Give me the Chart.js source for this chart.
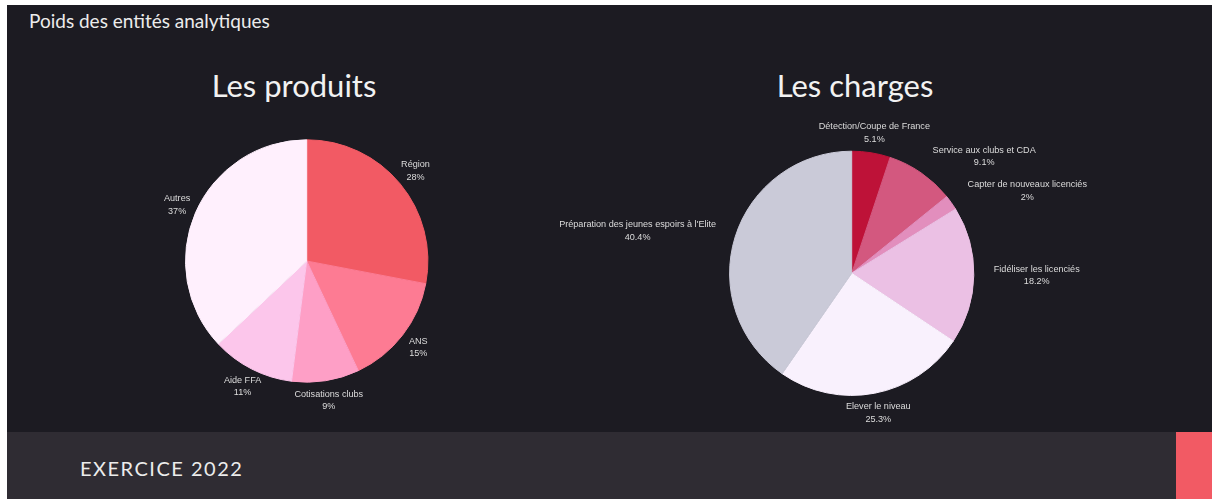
<!DOCTYPE html>
<html lang="fr">
<head>
<meta charset="utf-8">
<title>Poids des entités analytiques</title>
<script src="https://cdn.jsdelivr.net/npm/chart.js@4.4.0/dist/chart.umd.min.js"></script>
<style>
    html, body {
        margin: 0;
        padding: 0;
        width: 1212px;
        height: 499px;
        overflow: hidden;
        background: #ffffff;
        font-family: Lato, "Open Sans", sans-serif;
    }
    .panel {
        position: absolute;
        left: 7px;
        top: 5px;
        width: 1205px;
        height: 427px;
        background: #1c1b22;
    }
    .page-title {
        position: absolute;
        left: 29px;
        top: 8px;
        font-size: 19px;
        color: #ececec;
        line-height: 25px;
    }
    .chart-title {
        position: absolute;
        top: 66px;
        font-size: 31px;
        line-height: 38px;
        color: #f2f2f2;
        text-align: center;
    }
    canvas {
        position: absolute;
    }
    .footer {
        position: absolute;
        left: 7px;
        top: 432px;
        width: 1205px;
        height: 67px;
        background: #2f2c33;
    }
    .footer-text {
        position: absolute;
        left: 80px;
        top: 455px;
        font-size: 20px;
        line-height: 26px;
        letter-spacing: 1.5px;
        color: #ececec;
    }
    .footer-mark {
        position: absolute;
        left: 1176px;
        top: 432px;
        width: 36px;
        height: 67px;
        background: #f25a64;
    }
</style>
</head>
<body>
<div class="panel"></div>
<div class="page-title">Poids des entités analytiques</div>
<div class="chart-title" style="left:0;width:588px;">Les produits</div>
<div class="chart-title" style="left:600px;width:510px;">Les charges</div>
<canvas id="produits-chart" width="520" height="330" style="left:0;top:100px;"></canvas>
<canvas id="charges-chart" width="692" height="330" style="left:520px;top:100px;"></canvas>
<div class="footer"></div>
<div class="footer-text">EXERCICE 2022</div>
<div class="footer-mark"></div>

<script>
// Les produits
const produitsLabels = ['Région', 'ANS', 'Cotisations clubs', 'Aide FFA', 'Autres'];
const produitsValues = [28, 15, 9, 11, 37];
const produitsColors = ['#f25a64', '#fd7b93', '#fe9fc6', '#fcc6eb', '#fff0fd'];

// Les charges
const chargesLabels = [
    'Détection/Coupe de France',
    'Service aux clubs et CDA',
    'Capter de nouveaux licenciés',
    'Fidéliser les licenciés',
    'Elever le niveau',
    "Préparation des jeunes espoirs à l'Elite"
];
const chargesValues = [5.1, 9.1, 2, 18.2, 25.3, 40.4];
const chargesColors = ['#be1238', '#d3587f', '#e28ebd', '#ebc0e4', '#f9f1fd', '#cacad8'];

/**
 * Étiquettes à l'extérieur du camembert (libellé + pourcentage)
 * Le texte est centré sur le point radial, sauf s'il mord sur le disque :
 * il est alors poussé vers l'extérieur (aligné à gauche ou à droite).
 */
const outerLabels = {
    id: 'outerLabels',
    afterDatasetsDraw(chart, args, opts) {
        const ctx = chart.ctx;
        const meta = chart.getDatasetMeta(0);
        const labels = chart.data.labels;
        const values = chart.data.datasets[0].data;
        ctx.save();
        ctx.font = opts.size + 'px ' + opts.family;
        ctx.fillStyle = opts.color;
        ctx.textAlign = 'center';
        ctx.textBaseline = 'middle';
        meta.data.forEach(function(arc, i) {
            const p = arc.getProps(['x', 'y', 'startAngle', 'endAngle', 'outerRadius'], true);
            const mid = (p.startAngle + p.endAngle) / 2;
            const vx = Math.cos(mid);
            const vy = Math.sin(mid);
            const r = p.outerRadius + opts.offset;
            const px = p.x + vx * r;
            const py = p.y + vy * r;
            const lines = [labels[i], values[i] + '%'];
            const w = Math.max.apply(null, lines.map(function(t) { return ctx.measureText(t).width; }));
            // point de la boîte le plus proche du centre
            const nx = Math.max(px - w / 2, Math.min(p.x, px + w / 2));
            const ny = Math.max(py - opts.halfHeight, Math.min(p.y, py + opts.halfHeight));
            let cx = px;
            if (Math.hypot(nx - p.x, ny - p.y) < p.outerRadius) {
                cx = px + Math.sign(vx) * w / 2;
            }
            lines.forEach(function(t, k) {
                ctx.fillText(t, cx, py + (k - 0.5) * opts.lineHeight);
            });
        });
        ctx.restore();
    }
};

function createPie(id, labels, values, colors, padding) {
    const canvas = document.getElementById(id);
    if (!canvas) return;
    new Chart(canvas, {
        type: 'pie',
        data: {
            labels: labels,
            datasets: [{
                data: values,
                backgroundColor: colors,
                borderColor: colors,
                borderWidth: 1
            }]
        },
        options: {
            responsive: false,
            animation: false,
            devicePixelRatio: 1,
            layout: { padding: padding },
            plugins: {
                legend: { display: false },
                tooltip: { enabled: false },
                title: { display: false },
                outerLabels: {
                    size: 9.1,
                    family: '"Liberation Sans", Arial, sans-serif',
                    color: '#dcdcdc',
                    offset: 20,
                    lineHeight: 12.3,
                    halfHeight: 6
                }
            }
        },
        plugins: [outerLabels]
    });
}

createPie('produits-chart', produitsLabels, produitsValues, produitsColors,
    { left: 100, right: 6.6, top: 39.3, bottom: 47.3 });
createPie('charges-chart', chargesLabels, chargesValues, chargesColors,
    { left: 180, right: 208.6, top: 50.7, bottom: 34.1 });
</script>
</body>
</html>
